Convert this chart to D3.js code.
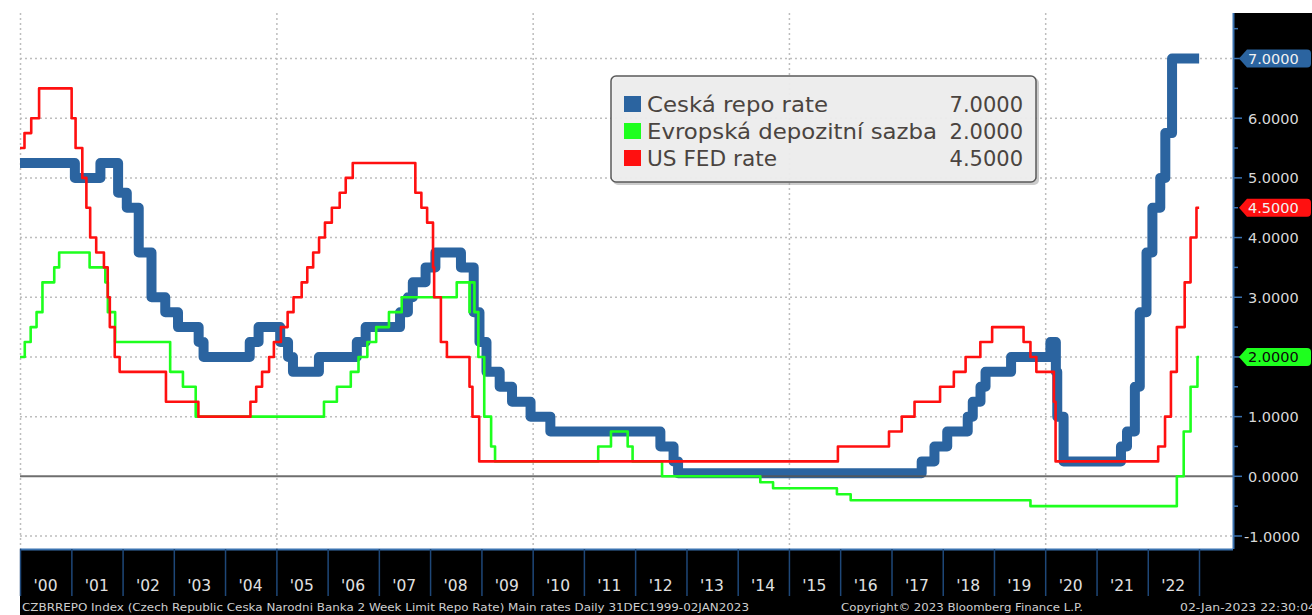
<!DOCTYPE html>
<html>
<head>
<meta charset="utf-8">
<script src="https://cdn.jsdelivr.net/npm/d3@7"></script>
<style>
  body { margin: 0; background: #fff; }
  svg { display: block; }
  text { font-family: "DejaVu Sans", Verdana, sans-serif; }
</style>
</head>
<body>
<svg id="chart" width="1312" height="615"></svg>
<script>
(function () {

    // CNB 2W repo rate (step changes)
    const czRepo = [
        ["2000-01-01", 5.25], ["2001-01-26", 5.00], ["2001-07-27", 5.25], ["2001-11-30", 4.75],
        ["2002-01-31", 4.50], ["2002-04-26", 3.75], ["2002-07-26", 3.00], ["2002-11-01", 2.75],
        ["2003-01-31", 2.50], ["2003-06-27", 2.25], ["2003-08-01", 2.00], ["2004-06-25", 2.25],
        ["2004-08-27", 2.50], ["2005-01-28", 2.25], ["2005-03-25", 2.00], ["2005-04-29", 1.75],
        ["2005-10-31", 2.00], ["2006-07-28", 2.25], ["2006-09-29", 2.50], ["2007-06-01", 2.75],
        ["2007-07-27", 3.00], ["2007-08-31", 3.25], ["2007-11-30", 3.50], ["2008-02-08", 3.75],
        ["2008-08-08", 3.50], ["2008-11-07", 2.75], ["2008-12-18", 2.25], ["2009-02-06", 1.75],
        ["2009-05-11", 1.50], ["2009-08-07", 1.25], ["2009-12-17", 1.00], ["2010-05-07", 0.75],
        ["2012-06-29", 0.50], ["2012-10-01", 0.25], ["2012-11-02", 0.05], ["2017-08-04", 0.25],
        ["2017-11-03", 0.50], ["2018-02-02", 0.75], ["2018-06-28", 1.00], ["2018-08-03", 1.25],
        ["2018-09-27", 1.50], ["2018-11-02", 1.75], ["2019-05-03", 2.00], ["2020-02-07", 2.25],
        ["2020-03-17", 1.75], ["2020-03-27", 1.00], ["2020-05-11", 0.25], ["2021-06-24", 0.50],
        ["2021-08-06", 0.75], ["2021-10-01", 1.50], ["2021-11-05", 2.75], ["2021-12-23", 3.75],
        ["2022-02-03", 4.50], ["2022-03-31", 5.00], ["2022-05-06", 5.75], ["2022-06-23", 7.00]
    ];

    // ECB deposit facility rate
    const ecbDeposit = [
        ["2000-01-01", 2.00], ["2000-02-04", 2.25], ["2000-03-17", 2.50], ["2000-04-28", 2.75],
        ["2000-06-09", 3.25], ["2000-09-01", 3.50], ["2000-10-06", 3.75], ["2001-05-11", 3.50],
        ["2001-08-31", 3.25], ["2001-09-18", 2.75], ["2001-11-09", 2.25], ["2002-12-06", 1.75],
        ["2003-03-07", 1.50], ["2003-06-06", 1.00], ["2005-12-06", 1.25], ["2006-03-08", 1.50],
        ["2006-06-15", 1.75], ["2006-08-09", 2.00], ["2006-10-11", 2.25], ["2006-12-13", 2.50],
        ["2007-03-14", 2.75], ["2007-06-13", 3.00], ["2008-07-09", 3.25], ["2008-10-08", 2.75],
        ["2008-10-09", 3.25], ["2008-11-12", 2.75], ["2008-12-10", 2.00], ["2009-01-21", 1.00],
        ["2009-03-11", 0.50], ["2009-04-08", 0.25], ["2011-04-13", 0.50], ["2011-07-13", 0.75],
        ["2011-11-09", 0.50], ["2011-12-14", 0.25], ["2012-07-11", 0.00], ["2014-06-11", -0.10],
        ["2014-09-10", -0.20], ["2015-12-09", -0.30], ["2016-03-16", -0.40], ["2019-09-18", -0.50],
        ["2022-07-27", 0.00], ["2022-09-14", 0.75], ["2022-11-02", 1.50], ["2022-12-21", 2.00]
    ];

    // US Fed funds target (upper bound)
    const fedRate = [
        ["2000-01-01", 5.50], ["2000-02-02", 5.75], ["2000-03-21", 6.00], ["2000-05-16", 6.50],
        ["2001-01-03", 6.00], ["2001-01-31", 5.50], ["2001-03-20", 5.00], ["2001-04-18", 4.50],
        ["2001-05-15", 4.00], ["2001-06-27", 3.75], ["2001-08-21", 3.50], ["2001-09-17", 3.00],
        ["2001-10-02", 2.50], ["2001-11-06", 2.00], ["2001-12-11", 1.75], ["2002-11-06", 1.25],
        ["2003-06-25", 1.00], ["2004-06-30", 1.25], ["2004-08-10", 1.50], ["2004-09-21", 1.75],
        ["2004-11-10", 2.00], ["2004-12-14", 2.25], ["2005-02-02", 2.50], ["2005-03-22", 2.75],
        ["2005-05-03", 3.00], ["2005-06-30", 3.25], ["2005-08-09", 3.50], ["2005-09-20", 3.75],
        ["2005-11-01", 4.00], ["2005-12-13", 4.25], ["2006-01-31", 4.50], ["2006-03-28", 4.75],
        ["2006-05-10", 5.00], ["2006-06-29", 5.25], ["2007-09-18", 4.75], ["2007-10-31", 4.50],
        ["2007-12-11", 4.25], ["2008-01-22", 3.50], ["2008-01-30", 3.00], ["2008-03-18", 2.25],
        ["2008-04-30", 2.00], ["2008-10-08", 1.50], ["2008-10-29", 1.00], ["2008-12-16", 0.25],
        ["2015-12-16", 0.50], ["2016-12-14", 0.75], ["2017-03-15", 1.00], ["2017-06-14", 1.25],
        ["2017-12-13", 1.50], ["2018-03-21", 1.75], ["2018-06-13", 2.00], ["2018-09-26", 2.25],
        ["2018-12-19", 2.50], ["2019-07-31", 2.25], ["2019-09-18", 2.00], ["2019-10-30", 1.75],
        ["2020-03-03", 1.25], ["2020-03-15", 0.25], ["2022-03-16", 0.50], ["2022-05-04", 1.00],
        ["2022-06-15", 1.75], ["2022-07-27", 2.50], ["2022-09-21", 3.25], ["2022-11-02", 4.00],
        ["2022-12-14", 4.50]
    ];

    const seriesNames = ["Ceská repo rate", "Evropská depozitní sazba", "US FED rate"];
    const seriesColors = ["#2b64a0", "#1eff1e", "#ff1010"];
    const yearLabels = ["'00", "'01", "'02", "'03", "'04", "'05", "'06", "'07", "'08", "'09", "'10", "'11",
                        "'12", "'13", "'14", "'15", "'16", "'17", "'18", "'19", "'20", "'21", "'22"];
    const yTicks = [-1, 0, 1, 2, 3, 4, 5, 6, 7];
    const gridYears = [2000, 2005, 2010, 2015, 2020];
    const endDate = "2023-01-02";
    const footLeft = "CZBRREPO Index (Czech Republic Ceska Narodni Banka 2 Week Limit Repo Rate) Main rates  Daily 31DEC1999-02JAN2023";
    const footMid = "Copyright\u00A9 2023 Bloomberg Finance L.P.";
    const footRight = "02-Jan-2023 22:30:04";

    const svg = d3.select('#chart');
    const left = 20, right = 1233, top = 13, bottom = 549;

    const parse = d3.utcParse("%Y-%m-%d");
    const x = d3.scaleUtc()
        .domain([Date.UTC(2000, 0, 1), Date.UTC(2023, 0, 1)])
        .range([left, 1199]);
    const y = d3.scaleLinear().domain([-1, 7]).range([536, 58.5]);

    // step data: every series runs to the end date
    const series = [czRepo, ecbDeposit, fedRate].map(arr => {
        const pts = arr.map(d => ({ date: parse(d[0]), value: d[1] }));
        pts.push({ date: parse(endDate), value: arr[arr.length - 1][1] });
        return pts;
    });

    // backgrounds
    svg.append('rect').attr('width', 1312).attr('height', 615).attr('fill', '#fff');
    svg.append('rect').attr('x', right).attr('y', top).attr('width', 1312 - right).attr('height', 615 - top).attr('fill', '#000');
    svg.append('rect').attr('x', left).attr('y', bottom).attr('width', 1312 - left).attr('height', 615 - bottom).attr('fill', '#000');

    // grid
    svg.append('g').selectAll('line')
        .data(yTicks.filter(v => v !== 0))
        .join('line')
        .attr('x1', left).attr('x2', right)
        .attr('y1', d => y(d)).attr('y2', d => y(d))
        .attr('stroke', '#bdbdbd').attr('stroke-width', 1.5).attr('stroke-dasharray', '2,3');

    svg.append('g').selectAll('line')
        .data(gridYears)
        .join('line')
        .attr('x1', d => x(Date.UTC(d, 0, 1)) + 0.5).attr('x2', d => x(Date.UTC(d, 0, 1)) + 0.5)
        .attr('y1', top).attr('y2', bottom)
        .attr('stroke', '#bdbdbd').attr('stroke-width', 1.5).attr('stroke-dasharray', '2,3');

    const line = d3.line()
        .curve(d3.curveStepAfter)
        .x(d => x(d.date))
        .y(d => y(d.value));

    // blue first, zero line, then green and red on top
    svg.append('path').datum(series[0])
        .attr('d', line).attr('fill', 'none')
        .attr('stroke', seriesColors[0]).attr('stroke-width', 10)
        .attr('stroke-linejoin', 'round');

    svg.append('line')
        .attr('x1', left).attr('x2', right)
        .attr('y1', y(0)).attr('y2', y(0))
        .attr('stroke', '#555').attr('stroke-opacity', 0.85).attr('stroke-width', 2);

    [1, 2].forEach(i => {
        svg.append('path').datum(series[i])
            .attr('d', line).attr('fill', 'none')
            .attr('stroke', seriesColors[i]).attr('stroke-width', 2.6)
            .attr('stroke-linejoin', 'round');
    });

    // legend
    const nameWidths = [181, 290, 130];
    const lg = svg.append('g');
    lg.append('rect').attr('x', 613).attr('y', 78).attr('width', 426).attr('height', 107)
        .attr('rx', 5).attr('fill', '#9a9a9a').attr('opacity', 0.5);
    lg.append('rect').attr('x', 611).attr('y', 76).attr('width', 425).attr('height', 106)
        .attr('rx', 5).attr('fill', '#efefef').attr('fill-opacity', 0.93)
        .attr('stroke', '#5a5a5a').attr('stroke-width', 1.5);
    const rows = lg.selectAll('g.row')
        .data(seriesNames)
        .join('g')
        .attr('transform', (d, i) => `translate(0, ${112 + i * 27})`);
    rows.append('rect').attr('x', 624).attr('y', -16).attr('width', 17).attr('height', 16)
        .attr('fill', (d, i) => seriesColors[i]);
    rows.append('text').attr('x', 647).attr('y', 0)
        .attr('font-size', 21).attr('fill', '#4a4440')
        .attr('textLength', (d, i) => nameWidths[i]).attr('lengthAdjust', 'spacingAndGlyphs')
        .text(d => d);
    rows.append('text').attr('x', 1023).attr('y', 0)
        .attr('font-size', 21).attr('fill', '#4a4440').attr('text-anchor', 'end')
        .text((d, i) => d3.format('.4f')(series[i][series[i].length - 1].value));

    // right axis
    const axisBlue = '#3a72b0';
    svg.append('line').attr('x1', right + 0.5).attr('x2', right + 0.5).attr('y1', top).attr('y2', bottom)
        .attr('stroke', axisBlue).attr('stroke-width', 2);
    const minor = d3.range(-1, 7.6, 0.5);
    svg.append('g').selectAll('line')
        .data(minor)
        .join('line')
        .attr('x1', right).attr('x2', d => right + (Number.isInteger(d) ? 9 : 5))
        .attr('y1', d => y(d)).attr('y2', d => y(d))
        .attr('stroke', axisBlue).attr('stroke-width', 1.5);
    svg.append('g').selectAll('text')
        .data(yTicks)
        .join('text')
        .attr('x', d => d < 0 ? 1244 : 1248).attr('y', d => y(d) + 5.5)
        .attr('font-size', 14.5).attr('fill', '#d8d8d8')
        .text(d => d3.format('.4f')(d).replace('−', '-'));

    // bottom axis
    svg.append('line').attr('x1', left).attr('x2', right).attr('y1', bottom + 0.5).attr('y2', bottom + 0.5)
        .attr('stroke', axisBlue).attr('stroke-width', 2);
    svg.append('g').selectAll('line')
        .data(d3.range(2000, 2024))
        .join('line')
        .attr('x1', d => x(Date.UTC(d, 0, 1)) + 0.5).attr('x2', d => x(Date.UTC(d, 0, 1)) + 0.5)
        .attr('y1', bottom).attr('y2', 596)
        .attr('stroke', '#1e4778').attr('stroke-width', 1.5);
    svg.append('g').selectAll('text')
        .data(yearLabels)
        .join('text')
        .attr('x', (d, i) => x(Date.UTC(2000 + i, 6, 1)))
        .attr('y', 591)
        .attr('text-anchor', 'middle')
        .attr('font-size', 15.5).attr('fill', '#e0e0e0')
        .text(d => d);

    // last value tags
    [0, 2, 1].forEach(i => {
        const v = series[i][series[i].length - 1].value;
        const yy = y(v);
        const g = svg.append('g').attr('transform', `translate(0, ${yy})`);
        g.append('path')
            .attr('d', 'M1239,0 L1247,-9 L1307,-9 Q1311,-9 1311,-5 L1311,5 Q1311,9 1307,9 L1247,9 Z')
            .attr('fill', seriesColors[i]);
        g.append('text').attr('x', 1248).attr('y', 5.5)
            .attr('font-size', 14.5)
            .attr('fill', i === 1 ? '#0a0a0a' : '#f2f2f2')
            .text(d3.format('.4f')(v));
    });

    // footer
    svg.append('text').attr('x', 22).attr('y', 611).attr('font-size', 11).attr('fill', '#cfcfcf')
        .attr('textLength', 727).attr('lengthAdjust', 'spacingAndGlyphs').text(footLeft);
    svg.append('text').attr('x', 841).attr('y', 611).attr('font-size', 11).attr('fill', '#cfcfcf')
        .attr('textLength', 242).attr('lengthAdjust', 'spacingAndGlyphs').text(footMid);
    svg.append('text').attr('x', 1180).attr('y', 611).attr('font-size', 11).attr('fill', '#cfcfcf')
        .attr('textLength', 136).attr('lengthAdjust', 'spacingAndGlyphs').text(footRight);

})();
</script>
</body>
</html>
